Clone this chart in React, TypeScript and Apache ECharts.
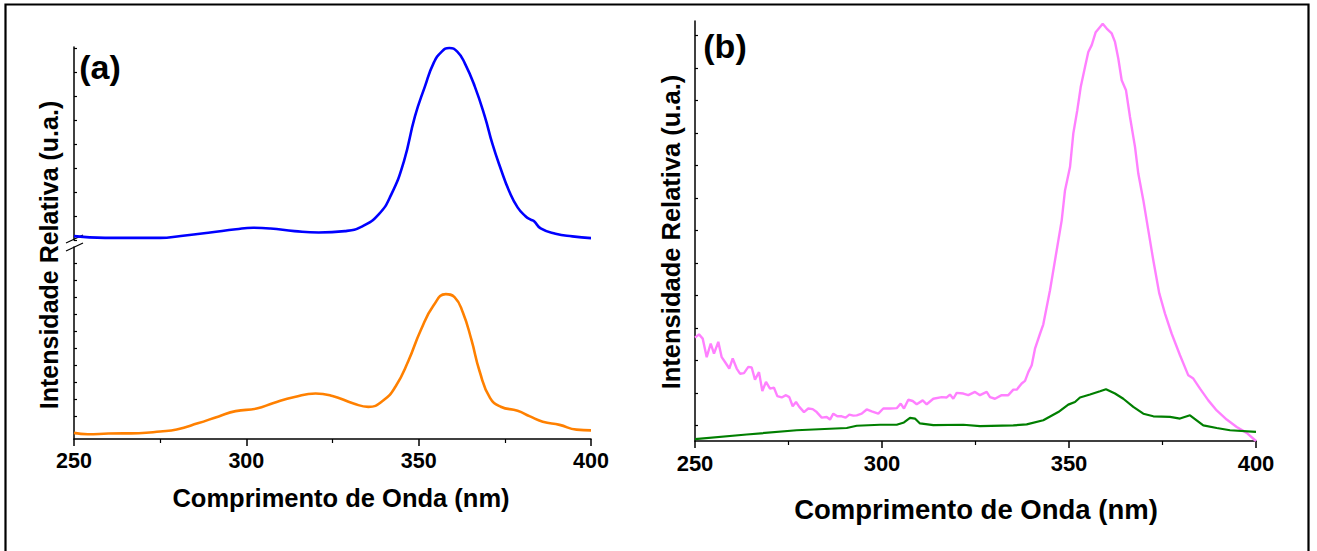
import { useEffect, useRef } from "react";
import * as echarts from "echarts";

// ---------- data ----------
const xTickValues = [250, 300, 350, 400];

// Panel (a) upper: blue spectrum
const blueNm = [250, 259, 275, 281, 289.5, 297, 302, 307, 314, 321, 328.6, 333.5, 338.4, 342, 345.7, 348.9, 351.8, 354.3, 356.7, 358.9, 361.2, 363.4, 366.3, 369.2, 371.4, 373.8, 376.3, 378.7, 381, 382.5, 383.5, 385.4, 389.7, 394.6, 400];
const blueVal = [0.16, 0.09, 0.09, 0.17, 0.31, 0.45, 0.51, 0.48, 0.37, 0.31, 0.37, 0.56, 1.07, 1.88, 3.27, 5.14, 6.39, 7.36, 7.85, 8.0, 7.85, 7.36, 6.39, 5.14, 4.0, 2.97, 2.02, 1.36, 0.99, 0.85, 0.78, 0.48, 0.26, 0.15, 0.08];

// Panel (a) lower: orange spectrum
const orangeNm = [250, 254, 260, 268.8, 275, 279.8, 285.9, 292, 296.9, 303, 307.9, 314, 320.1, 325, 331.1, 335.4, 339.7, 343.3, 347, 350.6, 354.3, 357.9, 360.4, 362.8, 365.3, 367.7, 370.7, 373.8, 378.7, 382.3, 386, 390.9, 395.8, 400];
const orangeVal = [0.36, 0.28, 0.32, 0.34, 0.44, 0.56, 0.92, 1.33, 1.64, 1.79, 2.12, 2.47, 2.68, 2.53, 2.09, 1.89, 2.26, 3.09, 4.59, 6.4, 7.85, 8.52, 8.35, 7.45, 5.84, 3.97, 2.42, 1.9, 1.66, 1.33, 1.02, 0.83, 0.55, 0.51];

// Panel (b): pink spectrum (noisy)
const pinkNm = [250.0, 251.07, 252.06, 253.13, 254.2, 255.08, 256.23, 257.14, 258.02, 259.17, 260.08, 261.15, 262.03, 263.1, 264.25, 265.16, 266.04, 267.11, 268.0, 268.98, 270.05, 271.12, 272.01, 273.18, 274.33, 275.21, 276.12, 277.01, 277.89, 279.14, 280.29, 281.47, 282.54, 283.88, 285.21, 286.1, 286.98, 288.05, 289.22, 290.29, 291.26, 292.33, 293.24, 294.57, 295.91, 297.25, 299.01, 300.35, 302.14, 303.93, 305.0, 305.88, 307.03, 308.21, 309.28, 310.88, 311.95, 313.72, 315.96, 317.3, 318.18, 319.06, 319.97, 321.74, 323.07, 324.87, 326.2, 327.99, 328.88, 330.21, 332.0, 333.77, 335.11, 336.02, 337.35, 338.24, 339.12, 340.03, 340.91, 342.25, 343.13, 344.92, 346.71, 348.05, 348.93, 350.27, 351.15, 352.22, 353.13, 354.28, 355.16, 356.07, 357.14, 359.01, 360.08, 361.42, 362.3, 363.18, 364.09, 365.24, 366.31, 367.65, 368.53, 369.87, 371.21, 372.54, 374.14, 375.67, 377.46, 379.68, 381.9, 383.24, 385.03, 387.25, 389.49, 392.17, 394.84, 397.51, 400.0];
const pinkVal = [3.18, 3.28, 3.15, 2.58, 3.0, 2.69, 3.05, 2.58, 2.43, 2.23, 2.54, 2.23, 2.07, 2.09, 2.28, 2.26, 1.89, 2.12, 1.54, 1.82, 1.61, 1.64, 1.38, 1.34, 1.41, 1.35, 1.07, 1.2, 1.05, 0.89, 1.0, 0.98, 0.89, 0.72, 0.74, 0.66, 0.84, 0.76, 0.76, 0.72, 0.81, 0.78, 0.79, 0.84, 0.97, 0.91, 0.84, 1.0, 1.0, 1.01, 1.15, 1.0, 1.27, 1.23, 1.13, 1.25, 1.13, 1.3, 1.35, 1.34, 1.43, 1.3, 1.48, 1.46, 1.41, 1.51, 1.41, 1.51, 1.35, 1.3, 1.41, 1.41, 1.58, 1.58, 1.77, 1.85, 2.12, 2.33, 2.84, 3.3, 3.59, 4.64, 5.87, 6.79, 7.71, 8.43, 9.46, 10.18, 10.89, 11.51, 11.97, 12.18, 12.58, 12.84, 12.69, 12.54, 12.28, 11.77, 11.1, 10.79, 9.97, 9.05, 8.23, 7.41, 6.48, 5.56, 4.54, 3.92, 3.3, 2.64, 2.02, 1.92, 1.61, 1.25, 0.94, 0.66, 0.43, 0.25, 0.0];

// Panel (b): green spectrum
const greenNm = [250, 263.82, 277.19, 290.56, 293.24, 299.47, 303.93, 305.88, 307.49, 308.82, 310.16, 313.72, 321.74, 326.2, 335.11, 338.69, 343.13, 347.14, 349.81, 351.6, 352.94, 355.61, 358.29, 359.89, 362.3, 364.52, 367.19, 369.87, 372.54, 377.01, 379.68, 382.35, 385.91, 389.49, 393.05, 400];
const greenVal = [0.06, 0.2, 0.33, 0.4, 0.47, 0.5, 0.5, 0.57, 0.71, 0.69, 0.54, 0.49, 0.5, 0.46, 0.48, 0.51, 0.64, 0.89, 1.12, 1.2, 1.34, 1.43, 1.53, 1.59, 1.46, 1.3, 1.05, 0.84, 0.76, 0.74, 0.69, 0.79, 0.48, 0.4, 0.33, 0.28];

// y-axis tick positions (arbitrary units)
const upperTicks = [0, 1, 2, 3, 4, 5, 6, 7, 8];
const lowerTicks = [0.35, 1.35, 2.35, 3.35, 4.35, 5.35, 6.35, 7.35, 8.35, 9.35, 10.35];
const bTicks = [0.48, 1.48, 2.48, 3.48, 4.48, 5.48, 6.48, 7.48, 8.48, 9.48, 10.48, 11.48, 12.48];

const zip = (xs: number[], ys: number[]) => xs.map((x, i) => [x, ys[i]]);

const FONT = "'Liberation Sans', Arial, Helvetica, sans-serif";

export default function App() {
  const ref = useRef<HTMLDivElement>(null);

  useEffect(() => {
    const chart = echarts.init(ref.current!, null, { renderer: "svg" });

    const xAxis = (gridIndex: number, show: boolean, fontSize: number) => ({
      type: "value",
      gridIndex,
      show,
      min: 250,
      max: 400,
      interval: 50,
      axisLine: { show: true, onZero: false, lineStyle: { color: "#000", width: 1.5 } },
      axisTick: { show: true, inside: false, length: 7, lineStyle: { color: "#000", width: 1.5 } },
      minorTick: { show: true, splitNumber: 2, length: 4, lineStyle: { color: "#000", width: 1.2 } },
      axisLabel: {
        show: true,
        color: "#000",
        fontSize,
        fontWeight: "bold",
        fontFamily: FONT,
        margin: 11,
        customValues: xTickValues,
      },
      splitLine: { show: false },
      minorSplitLine: { show: false },
    });

    const yAxis = (gridIndex: number, max: number, ticks: number[]) => ({
      type: "value",
      gridIndex,
      min: 0,
      max,
      axisLine: { show: true, onZero: false, lineStyle: { color: "#000", width: 1.5 } },
      axisTick: { show: true, inside: true, length: 3, customValues: ticks, lineStyle: { color: "#000", width: 1.2 } },
      axisLabel: { show: false },
      splitLine: { show: false },
    });

    chart.setOption({
      animation: false,
      backgroundColor: "#fff",
      grid: [
        { left: 74, top: 47, width: 517, height: 193 },
        { left: 74, top: 247, width: 517, height: 192 },
        { left: 695, top: 21, width: 561, height: 420 },
      ],
      xAxis: [xAxis(0, false, 21), xAxis(1, true, 21.5), xAxis(2, true, 22)],
      yAxis: [yAxis(0, 8.04, upperTicks), yAxis(1, 192 / 17, lowerTicks), yAxis(2, 420 / 32.5, bTicks)],
      series: [
        {
          type: "line",
          xAxisIndex: 0,
          yAxisIndex: 0,
          data: zip(blueNm, blueVal),
          showSymbol: false,
          smooth: 0.5,
          lineStyle: { color: "#0000FF", width: 2.6 },
          z: 5,
        },
        {
          type: "line",
          xAxisIndex: 1,
          yAxisIndex: 1,
          data: zip(orangeNm, orangeVal),
          showSymbol: false,
          smooth: 0.5,
          lineStyle: { color: "#FF8000", width: 2.6 },
        },
        {
          type: "line",
          xAxisIndex: 2,
          yAxisIndex: 2,
          data: zip(pinkNm, pinkVal),
          showSymbol: false,
          lineStyle: { color: "#FF80FF", width: 2.4 },
        },
        {
          type: "line",
          xAxisIndex: 2,
          yAxisIndex: 2,
          data: zip(greenNm, greenVal),
          showSymbol: false,
          lineStyle: { color: "#007F00", width: 2.2 },
        },
      ],
      graphic: [
        {
          type: "rect",
          shape: { x: 5.5, y: 4.5, width: 1303, height: 560 },
          style: { fill: "none", stroke: "#000", lineWidth: 2.2 },
          silent: true,
        },
        // axis break marks
        { type: "line", shape: { x1: 66, y1: 243, x2: 83, y2: 235 }, style: { stroke: "#000", lineWidth: 1.3 }, z: 1 },
        { type: "line", shape: { x1: 66, y1: 251, x2: 83, y2: 243 }, style: { stroke: "#000", lineWidth: 1.3 }, z: 1 },
        {
          type: "text",
          x: 100,
          y: 67,
          style: { text: "(a)", fontSize: 34, fontWeight: "bold", fontFamily: FONT, fill: "#000", align: "center", verticalAlign: "middle" },
        },
        {
          type: "text",
          x: 725,
          y: 46,
          style: { text: "(b)", fontSize: 34, fontWeight: "bold", fontFamily: FONT, fill: "#000", align: "center", verticalAlign: "middle" },
        },
        {
          type: "text",
          x: 341,
          y: 498,
          style: { text: "Comprimento de Onda (nm)", fontSize: 25.5, fontWeight: "bold", fontFamily: FONT, fill: "#000", align: "center", verticalAlign: "middle" },
        },
        {
          type: "text",
          x: 976,
          y: 509,
          style: { text: "Comprimento de Onda (nm)", fontSize: 27.5, fontWeight: "bold", fontFamily: FONT, fill: "#000", align: "center", verticalAlign: "middle" },
        },
        {
          type: "text",
          x: 49,
          y: 255,
          rotation: Math.PI / 2,
          style: { text: "Intensidade Relativa (u.a.)", fontSize: 25, fontWeight: "bold", fontFamily: FONT, fill: "#000", align: "center", verticalAlign: "middle" },
        },
        {
          type: "text",
          x: 671,
          y: 232,
          rotation: Math.PI / 2,
          style: { text: "Intensidade Relativa (u.a.)", fontSize: 25.5, fontWeight: "bold", fontFamily: FONT, fill: "#000", align: "center", verticalAlign: "middle" },
        },
      ],
    });

    return () => chart.dispose();
  }, []);

  return <div ref={ref} style={{ position: "fixed", left: 0, top: 0, width: 1317, height: 551 }} />;
}
